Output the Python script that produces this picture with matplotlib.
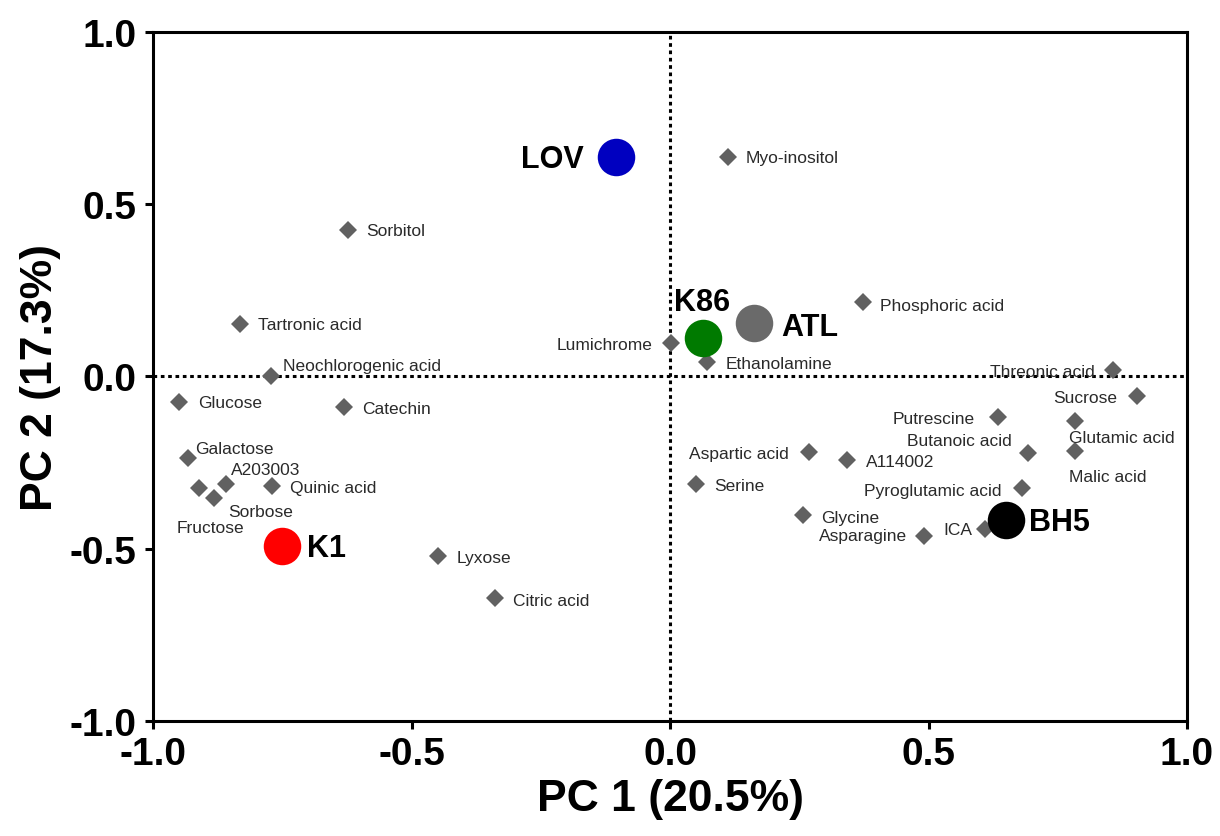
import matplotlib.pyplot as plt

plt.rcParams['font.family'] = ['Liberation Sans', 'DejaVu Sans']

# metabolite loadings
metabolites = ['Myo-inositol', 'Sorbitol', 'Tartronic acid', 'Neochlorogenic acid', 'Glucose',
               'Catechin', 'Galactose', 'A203003', 'Fructose', 'Sorbose', 'Quinic acid', 'Lyxose',
               'Citric acid', 'Lumichrome', 'Ethanolamine', 'Phosphoric acid', 'Threonic acid',
               'Sucrose', 'Putrescine', 'Glutamic acid', 'Malic acid', 'Butanoic acid',
               'Aspartic acid', 'A114002', 'Serine', 'Pyroglutamic acid', 'Glycine',
               'Asparagine', 'ICA']
pc1 = [0.112, -0.622, -0.831, -0.771, -0.950,
       -0.630, -0.932, -0.859, -0.911, -0.882, -0.769, -0.448,
       -0.339, 0.002, 0.072, 0.374, 0.857,
       0.903, 0.634, 0.783, 0.783, 0.692,
       0.269, 0.343, 0.050, 0.680, 0.258,
       0.492, 0.609]
pc2 = [0.636, 0.424, 0.151, 0.000, -0.075,
       -0.090, -0.238, -0.313, -0.325, -0.354, -0.319, -0.522,
       -0.644, 0.096, 0.041, 0.215, 0.020,
       -0.058, -0.119, -0.128, -0.215, -0.221,
       -0.218, -0.241, -0.311, -0.325, -0.403,
       -0.462, -0.444]

# sample scores
groups = ['LOV', 'K86', 'ATL', 'BH5', 'K1']
group_x = [-0.105, 0.064, 0.163, 0.649, -0.750]
group_y = [0.636, 0.113, 0.154, -0.418, -0.493]
group_colors = ['#0000c0', '#007a00', '#6a6a6a', '#000000', '#ff0000']

# label offsets in pixels (dx, dy up, ha)
met_offsets = {
    'Myo-inositol': (18, 0, 'left'), 'Sorbitol': (18, 0, 'left'),
    'Tartronic acid': (18, 0, 'left'), 'Neochlorogenic acid': (12, 11, 'left'),
    'Glucose': (19, 0, 'left'), 'Catechin': (18, -1, 'left'),
    'Galactose': (7, 10, 'left'), 'A203003': (5, 15, 'left'),
    'Fructose': (11, -39, 'center'), 'Sorbose': (14, -13, 'left'),
    'Quinic acid': (18, -1, 'left'), 'Lyxose': (18, -1, 'left'),
    'Citric acid': (18, -2, 'left'), 'Lumichrome': (-19, -1, 'right'),
    'Ethanolamine': (18, -1, 'left'), 'Phosphoric acid': (17, -3, 'left'),
    'Threonic acid': (-18, -2, 'right'), 'Sucrose': (-20, -1, 'right'),
    'Putrescine': (-23, -1, 'right'), 'Glutamic acid': (-6, -17, 'left'),
    'Malic acid': (-6, -26, 'left'), 'Butanoic acid': (-16, 12, 'right'),
    'Aspartic acid': (-20, -2, 'right'), 'A114002': (19, -2, 'left'),
    'Serine': (18, -2, 'left'), 'Pyroglutamic acid': (-20, -2, 'right'),
    'Glycine': (18, -2, 'left'), 'Asparagine': (-17, 0, 'right'),
    'ICA': (-13, 0, 'right'),
}
group_offsets = {
    'LOV': (-32, -2, 'right'), 'K86': (-1, 36, 'center'), 'ATL': (27, -4, 'left'),
    'BH5': (23, -2, 'left'), 'K1': (25, -2, 'left'),
}
px = 72 / 100

fig = plt.figure(figsize=(12.2, 8.37), dpi=100)
ax = fig.add_axes([0.1254, 0.1374, 0.973 - 0.1254, 0.9606 - 0.1374])

ax.axhline(0, color='black', linestyle=(0, (1.2, 1.2)), linewidth=2.2, zorder=1)
ax.axvline(0, color='black', linestyle=(0, (1.2, 1.2)), linewidth=2.2, zorder=1)

ax.plot(pc1, pc2, 'D', color='#616161', markersize=9, markeredgewidth=0, zorder=2)
for name, x, y in zip(metabolites, pc1, pc2):
    dx, dy, ha = met_offsets[name]
    ax.annotate(name, (x, y), xytext=(dx * px, dy * px), textcoords='offset points',
                ha=ha, va='center', fontsize=12.5, color='#2a2a2a', zorder=3)

for name, x, y, c in zip(groups, group_x, group_y, group_colors):
    ax.plot(x, y, 'o', color=c, markersize=27, markeredgewidth=0, zorder=4)
    dx, dy, ha = group_offsets[name]
    ax.annotate(name, (x, y), xytext=(dx * px, dy * px), textcoords='offset points',
                ha=ha, va='center', fontsize=22, fontweight='bold', color='black', zorder=5)

ax.set_xlim(-1, 1)
ax.set_ylim(-1, 1)
ticks = [-1.0, -0.5, 0.0, 0.5, 1.0]
ax.set_xticks(ticks)
ax.set_yticks(ticks)
ax.set_xticklabels([f'{t:.1f}' for t in ticks])
ax.set_yticklabels([f'{t:.1f}' for t in ticks])
for s in ax.spines.values():
    s.set_linewidth(2.2)
ax.tick_params(axis='both', length=6, width=2.2, labelsize=28)
ax.tick_params(axis='x', pad=5)
ax.tick_params(axis='y', pad=6)
for lab in ax.get_xticklabels() + ax.get_yticklabels():
    lab.set_fontweight('bold')

ax.set_xlabel('PC 1 (20.5%)', fontsize=32, fontweight='bold', labelpad=4)
ax.set_ylabel('PC 2 (17.3%)', fontsize=32, fontweight='bold', labelpad=6)

fig.savefig('out.png', dpi=100)
